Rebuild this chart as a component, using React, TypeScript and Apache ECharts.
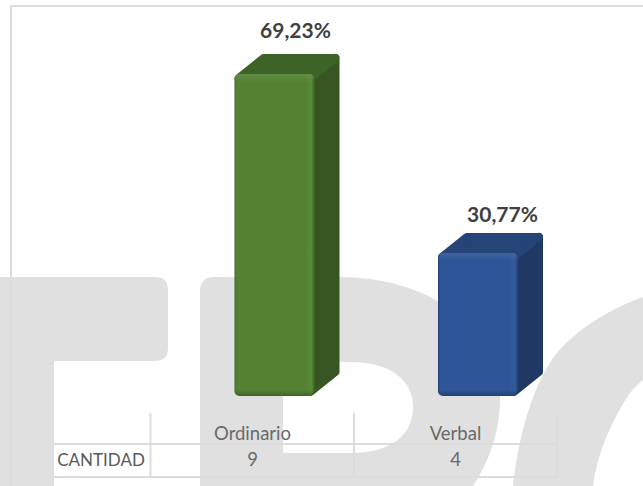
import React, { useEffect, useRef } from "react";
import * as echarts from "echarts";

const categories = ["Ordinario", "Verbal"];
const percentages = [69.23, 30.77];
const percentLabels = ["69,23%", "30,77%"];
const counts = ["9", "4"];
const rowTitle = "CANTIDAD";

const palette = [
  { front: "#548235", light: "#5a8b37", dark: "#3f6527", top: "#3e6327", side: "#375623" },
  { front: "#2e5597", light: "#325a9c", dark: "#234279", top: "#264478", side: "#1f3864" },
];
const labelShift = [
  { dx: 61, dy: -45 },
  { dx: 65, dy: -39 },
];

const GREY = "#e0e0e0";
const LINE = "#dcdcdc";
const FONT = "Lato, 'Open Sans', sans-serif";

const markF = "M0 277 L155 277 Q168 277 168 290 L168 348 Q168 361 155 361 L54 361 L54 486 L0 486 Z";
const markD =
  "M214 277 L340 277 C420 277 500 320 500 400 C500 430 490 460 473 486 L200 486 L200 291 Q200 277 214 277 Z";
const markHole = "M283 362 L350 362 C390 362 413 380 413 407 C413 436 390 453 350 453 L283 453 Z";
const markO =
  "M643 297 C607 310 575 330 553 358 C535 385 520 425 513 486 L593 486 C597 455 610 423 630 393 C634 388 638 384 643 380 Z";

echarts.graphic.registerShape("markF", echarts.graphic.extendPath(markF, {}));
echarts.graphic.registerShape("markD", echarts.graphic.extendPath(markD, {}));
echarts.graphic.registerShape("markHole", echarts.graphic.extendPath(markHole, {}));
echarts.graphic.registerShape("markO", echarts.graphic.extendPath(markO, {}));

const hLine = (x1: number, x2: number, y: number) => ({
  type: "line",
  silent: true,
  shape: { x1, y1: y, x2, y2: y },
  style: { stroke: LINE, lineWidth: 2 },
});
const vLine = (x: number, y1: number, y2: number) => ({
  type: "line",
  silent: true,
  shape: { x1: x, y1, x2: x, y2 },
  style: { stroke: LINE, lineWidth: 2 },
});

function renderBar(params: any, api: any) {
  const i = api.value(0) as number;
  const [cx, yTop] = api.coord([i, api.value(1)]);
  const [, yBase] = api.coord([i, 0]);
  const c = palette[i];
  const w = 80;
  const depthX = 25;
  const depthY = 20;
  const x0 = cx - 18 + i * 0.5;
  const x1 = x0 + w;
  const inset = 4;
  const poly = (points: number[][], fill: string) => ({
    type: "polygon",
    shape: { points },
    style: { fill, stroke: fill, lineWidth: inset * 2, lineJoin: "round" },
  });
  const h = yBase - yTop;
  return {
    type: "group",
    children: [
      poly(
        [
          [x1 - inset, yTop + inset],
          [x1 + depthX - inset, yTop - depthY + inset],
          [x1 + depthX - inset, yBase - depthY - inset],
          [x1 - inset, yBase - inset],
        ],
        c.side
      ),
      poly(
        [
          [x0 + inset, yTop + inset],
          [x0 + depthX + inset, yTop - depthY + inset],
          [x1 + depthX - inset, yTop - depthY + inset],
          [x1 - inset, yTop + inset],
        ],
        c.top
      ),
      {
        type: "rect",
        shape: { x: x0, y: yTop, width: w, height: h, r: 5 },
        style: {
          fill: {
            type: "linear",
            x: 0,
            y: 0,
            x2: 1,
            y2: 0,
            colorStops: [
              { offset: 0, color: c.dark },
              { offset: 0.025, color: c.front },
              { offset: 0.88, color: c.front },
              { offset: 0.96, color: c.light },
              { offset: 1, color: c.dark },
            ],
          },
        },
      },
      {
        type: "rect",
        shape: { x: x0, y: yTop, width: w, height: h, r: 5 },
        style: {
          fill: {
            type: "linear",
            x: 0,
            y: 0,
            x2: 0,
            y2: 1,
            colorStops: [
              { offset: 0, color: "rgba(255,255,255,0.08)" },
              { offset: 8 / h, color: "rgba(255,255,255,0)" },
              { offset: 1 - 6 / h, color: "rgba(0,0,0,0)" },
              { offset: 1, color: "rgba(0,0,0,0.25)" },
            ],
          },
        },
      },
      {
        type: "text",
        style: {
          x: cx + labelShift[i].dx - 18,
          y: yTop + labelShift[i].dy,
          text: percentLabels[i],
          fill: "#404040",
          font: `bold 21px ${FONT}`,
          align: "center",
          verticalAlign: "middle",
        },
      },
    ],
  };
}

export default function App() {
  const ref = useRef<HTMLDivElement>(null);
  useEffect(() => {
    document.body.style.margin = "0";
    const chart = echarts.init(ref.current!, null, { renderer: "svg" });
    chart.setOption({
      animation: false,
      backgroundColor: "#ffffff",
      graphic: {
        elements: [
          { type: "markF", x: 0, y: 0, silent: true, style: { fill: GREY } },
          { type: "markD", x: 0, y: 0, silent: true, style: { fill: GREY } },
          { type: "markHole", x: 0, y: 0, silent: true, style: { fill: "#ffffff" } },
          { type: "markO", x: 0, y: 0, silent: true, style: { fill: GREY } },
          hLine(10, 643, 6),
          vLine(11, 5, 486),
          hLine(54, 557, 444),
          hLine(54, 557, 477),
          vLine(150.5, 413, 477),
          vLine(354, 413, 477),
          vLine(557, 413, 477),
          {
            type: "text",
            silent: true,
            style: {
              x: 101,
              y: 459.5,
              text: rowTitle,
              fill: "#595959",
              font: `17px ${FONT}`,
              align: "center",
              verticalAlign: "middle",
            },
          },
        ],
      },
      grid: { left: 151, right: 86, top: 24, bottom: 90 },
      xAxis: [
        {
          type: "category",
          data: categories,
          axisLine: { show: false },
          axisTick: { show: false },
          axisLabel: { color: "#6a6a6a", fontSize: 18.5, fontFamily: FONT, margin: 27 },
        },
        {
          type: "category",
          position: "bottom",
          data: counts,
          axisLine: { show: false },
          axisTick: { show: false },
          axisLabel: { color: "#6a6a6a", fontSize: 18.5, fontFamily: FONT, margin: 53 },
        },
      ],
      yAxis: { type: "value", min: 0, max: 80, show: false },
      series: [
        {
          type: "custom",
          renderItem: renderBar,
          encode: { x: 0, y: 1 },
          data: percentages.map((v, i) => [i, v]),
          clip: false,
        },
      ],
    });
    return () => chart.dispose();
  }, []);
  return <div ref={ref} style={{ position: "fixed", left: 0, top: 0, width: 643, height: 486 }} />;
}
